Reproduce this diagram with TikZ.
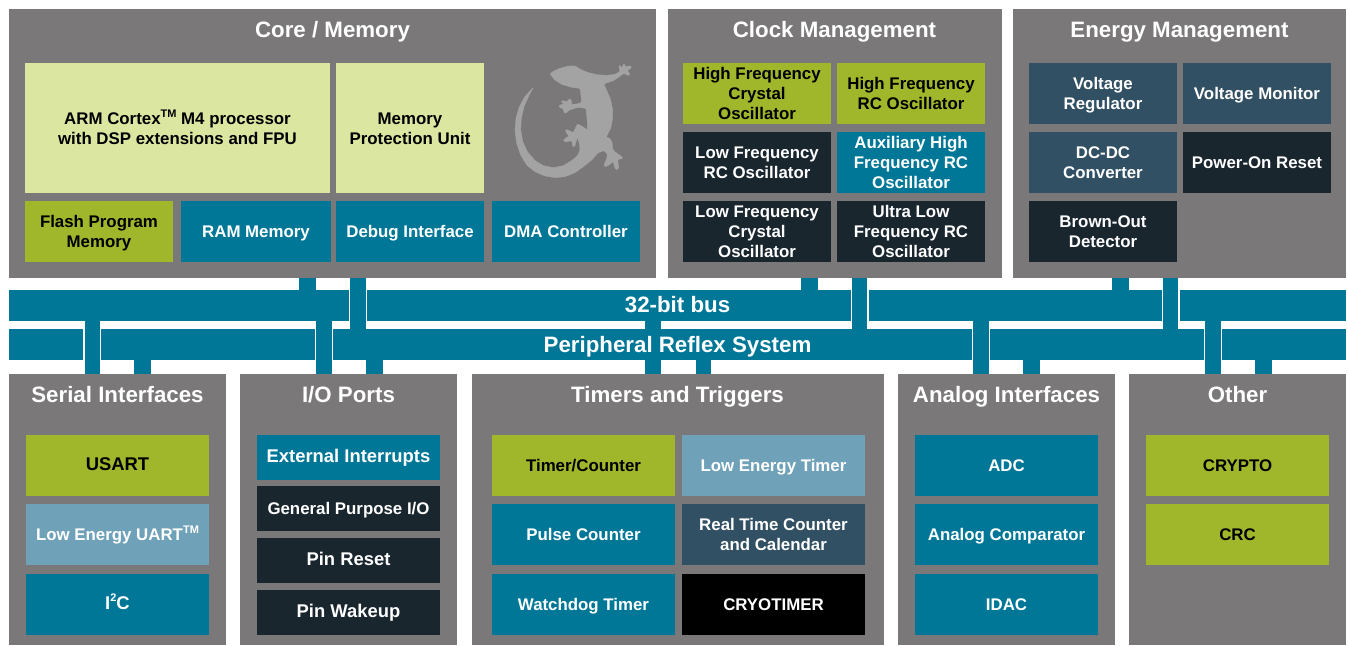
\documentclass[tikz,border=0pt]{standalone}
\usepackage{fontspec}
\setmainfont{Liberation Sans}
\definecolor{pgray}{HTML}{7A7879}
\definecolor{cteal}{HTML}{007796}
\definecolor{colive}{HTML}{A0B72C}
\definecolor{cpale}{HTML}{DBE6A1}
\definecolor{cdark}{HTML}{19262E}
\definecolor{cslate}{HTML}{325063}
\definecolor{csky}{HTML}{6FA1B8}
\definecolor{cgecko}{HTML}{A4A3A4}
\newcommand\supr[1]{\raisebox{.40em}{\fontsize{11}{11}\selectfont #1}}
\newcommand\lstrut{\rule[-.24em]{0pt}{1.17em}}
\newcommand\ml{\rule{0pt}{16.64pt}}
\tikzset{
  x=1pt,y=-1pt,
  blk/.style={inner sep=0pt,outer sep=0pt,align=center,font=\fontsize{16.85}{20}\selectfont\bfseries,
    execute at begin node=\lstrut,execute at end node=\lstrut},
  big/.style={font=\fontsize{18.4}{20}\selectfont\bfseries,execute at end node={\rule[-7.5pt]{0pt}{1pt}}},
  panel/.style={inner sep=0pt,outer sep=0pt,fill=pgray},
  title/.style={inner sep=0pt,anchor=base,text=white,font=\fontsize{22.3}{24}\selectfont\bfseries},
  bus/.style={inner sep=0pt,outer sep=0pt,fill=cteal},
  olive/.style={blk,fill=colive,text=black},
  pale/.style={blk,fill=cpale,text=black},
  teal/.style={blk,fill=cteal,text=white},
  dark/.style={blk,fill=cdark,text=white},
  slate/.style={blk,fill=cslate,text=white},
  sky/.style={blk,fill=csky,text=white},
  blackbox/.style={blk,fill=black,text=white},
  stub/.style={cteal,line width=15.5pt},
  shortstub/.style={cteal,line width=17pt},
  gap/.style={white,line width=18.2pt},
}
% \blkn{name}{style}{x1}{y1}{x2}{y2}{text}
\newcommand\blkn[7]{\node[#2,minimum width={(#5-#3)*1pt},minimum height={(#6-#4)*1pt}] (#1) at ({(#3+#5)/2},{(#4+#6)/2}) {#7};}
\begin{document}
\begin{tikzpicture}
\useasboundingbox (0,0) rectangle (1348,645);
% panels
\blkn{core}{panel}{9}{9}{656}{278}{}
\blkn{clock}{panel}{668}{9}{1002}{278}{}
\blkn{energy}{panel}{1013}{9}{1346}{278}{}
\blkn{serial}{panel}{9}{374}{226}{645}{}
\blkn{io}{panel}{240}{374}{457}{645}{}
\blkn{timers}{panel}{472}{374}{884}{645}{}
\blkn{analog}{panel}{898}{374}{1115}{645}{}
\blkn{other}{panel}{1129}{374}{1346}{645}{}
% buses
\blkn{bus32}{bus}{9}{290}{1346}{320.7}{}
\blkn{prs}{bus}{9}{329}{1346}{360}{}
% stub x positions
\coordinate (a1) at (92.3,0);
\coordinate (a2) at (142.5,0);
\coordinate (b1) at (307.5,0);
\coordinate (b2) at (323.8,0);
\coordinate (b3) at (358,0);
\coordinate (b4) at (374.5,0);
\coordinate (c1) at (653.2,0);
\coordinate (c2) at (703.4,0);
\coordinate (d1) at (809.5,0);
\coordinate (d2) at (859.6,0);
\coordinate (e1) at (981.2,0);
\coordinate (e2) at (1031.5,0);
\coordinate (f1) at (1120.5,0);
\coordinate (f2) at (1170.6,0);
\coordinate (g1) at (1212.8,0);
\coordinate (g2) at (1263.5,0);
% white gaps where a stub crosses a bus
\foreach \p in {a1,b2,e1,g1} \draw[gap] (prs.north -| \p) -- (prs.south -| \p);
\foreach \p in {b3,d2,f2} \draw[gap] (bus32.north -| \p) -- (bus32.south -| \p);
% stubs: upper panels to bus
\draw[shortstub] (core.south -| b1) -- (bus32.north -| b1);
\draw[shortstub] (clock.south -| d1) -- (bus32.north -| d1);
\draw[shortstub] (energy.south -| f1) -- (bus32.north -| f1);
\draw[stub] (core.south -| b3) -- (prs.north -| b3);
\draw[stub] (clock.south -| d2) -- (prs.north -| d2);
\draw[stub] (energy.south -| f2) -- (prs.north -| f2);
% stubs: bus to peripherals
\draw[stub] (bus32.south -| a1) -- (serial.north -| a1);
\draw[stub] (bus32.south -| b2) -- (io.north -| b2);
\draw[stub] (bus32.south -| c1) -- (timers.north -| c1);
\draw[stub] (bus32.south -| e1) -- (analog.north -| e1);
\draw[stub] (bus32.south -| g1) -- (other.north -| g1);
\draw[shortstub] (prs.south -| a2) -- (serial.north -| a2);
\draw[shortstub] (prs.south -| b4) -- (io.north -| b4);
\draw[stub] (prs.south -| c2) -- (timers.north -| c2);
\draw[shortstub] (prs.south -| e2) -- (analog.north -| e2);
\draw[shortstub] (prs.south -| g2) -- (other.north -| g2);
% bus labels
\node[title] (lbus) at (677.5,312.4) {32-bit bus};
\node[title] (lprs) at (677.5,352.4) {Peripheral Reflex System};
% titles
\node[title] (tcore) at (332.5,37.4) {Core / Memory};
\node[title] (tclock) at (834.5,37.4) {Clock Management};
\node[title] (tenergy) at (1179.5,37.4) {Energy Management};
\node[title] (tserial) at (117.5,402) {Serial Interfaces};
\node[title] (tio) at (348.5,402) {I/O Ports};
\node[title] (ttimers) at (677.5,402) {Timers and Triggers};
\node[title] (tanalog) at (1006.5,402) {Analog Interfaces};
\node[title] (tother) at (1237.5,402) {Other};
% Core
\blkn{arm}{pale}{25}{63}{330}{193}{\ml ARM Cortex\supr{TM} M4 processor\\with DSP extensions and FPU}
\blkn{mpu}{pale}{336}{63}{484}{193}{\ml Memory\\Protection Unit}
\blkn{flash}{olive}{25}{201}{173}{262}{\ml Flash Program\\Memory}
\blkn{ram}{teal}{181}{201}{331}{262}{RAM Memory}
\blkn{debug}{teal}{336}{201}{484}{262}{Debug Interface}
\blkn{dma}{teal}{492}{201}{640}{262}{DMA Controller}
% Clock
\blkn{hfxo}{olive}{683}{63}{831}{124}{\ml High Frequency\\Crystal\\Oscillator}
\blkn{hfrco}{olive}{837}{63}{985}{124}{\ml High Frequency\\RC Oscillator}
\blkn{lfrco}{dark}{683}{132}{831}{193}{\ml Low Frequency\\RC Oscillator}
\blkn{auxhf}{teal}{837}{132}{985}{193}{\ml Auxiliary High\\Frequency RC\\Oscillator}
\blkn{lfxo}{dark}{683}{201}{831}{262}{\ml Low Frequency\\Crystal\\Oscillator}
\blkn{ulfrco}{dark}{837}{201}{985}{262}{\ml Ultra Low\\Frequency RC\\Oscillator}
% Energy
\blkn{vreg}{slate}{1029}{63}{1177}{124}{\ml Voltage\\Regulator}
\blkn{vmon}{slate}{1183}{63}{1331}{124}{Voltage Monitor}
\blkn{dcdc}{slate}{1029}{132}{1177}{193}{\ml DC-DC\\Converter}
\blkn{por}{dark}{1183}{132}{1331}{193}{Power-On Reset}
\blkn{bod}{dark}{1029}{201}{1177}{262}{\ml Brown-Out\\Detector}
% Serial
\blkn{usart}{olive,big}{26}{435}{209}{496}{USART}
\blkn{leuart}{sky}{26}{504}{209}{565}{Low Energy UART\supr{TM}}
\blkn{iic}{teal,big}{26}{574}{209}{635}{I\supr{2}C}
% IO
\blkn{extint}{teal,big}{257}{435}{440}{480}{External Interrupts}
\blkn{gpio}{dark}{257}{486}{440}{531}{General Purpose I/O}
\blkn{pinrst}{dark,big}{257}{538}{440}{583}{Pin Reset}
\blkn{pinwk}{dark,big}{257}{590}{440}{635}{Pin Wakeup}
% Timers
\blkn{timer}{olive}{492}{435}{675}{496}{Timer/Counter}
\blkn{letimer}{sky}{682}{435}{865}{496}{Low Energy Timer}
\blkn{pcnt}{teal}{492}{504}{675}{565}{Pulse Counter}
\blkn{rtcc}{slate}{682}{504}{865}{565}{\ml Real Time Counter\\and Calendar}
\blkn{wdog}{teal}{492}{574}{675}{635}{Watchdog Timer}
\blkn{cryo}{blackbox}{682}{574}{865}{635}{CRYOTIMER}
% Analog
\blkn{adc}{teal}{915}{435}{1098}{496}{ADC}
\blkn{acmp}{teal}{915}{504}{1098}{565}{Analog Comparator}
\blkn{idac}{teal}{915}{574}{1098}{635}{IDAC}
% Other
\blkn{crypto}{olive}{1146}{435}{1329}{496}{CRYPTO}
\blkn{crc}{olive}{1146}{504}{1329}{565}{CRC}
% gecko
\begin{scope}[shift={(500,50)},x=.3333pt,y=-.3333pt]
\fill[cgecko,draw=cgecko,line width=.4pt,line join=round,rounded corners=.8pt]
(150,72)--(160,64)--(180,55)--(205,48)--(225,48)--(245,60)--(265,68)--(290,74)--(320,76)--(345,73)--(358,66)--(360,60)
--(356,48)--(360,46)--(365,55)--(370,43)--(375,43)--(376,52)--(390,47)--(395,52)--(382,62)--(390,72)--(386,77)--(372,70)--(358,80)--(340,92)--(315,100)--(312,104)
--(322,125)--(332,150)--(338,180)--(338,205)--(332,235)--(318,262)--(330,265)--(337,280)--(337,295)--(345,306)--(365,320)--(368,326)--(353,328)--(356,352)--(352,360)--(345,355)--(340,335)--(322,348)--(314,350)--(312,344)--(320,328)--(322,312)--(312,302)--(295,308)--(275,330)--(250,350)--(225,368)--(195,380)--(165,383)--(135,378)--(105,365)--(80,345)--(62,315)--(50,280)--(45,240)--(48,205)--(58,170)--(75,140)--(100,112)
--(85,140)--(72,170)--(64,205)--(62,240)--(68,275)--(82,305)--(105,332)--(130,347)--(160,353)--(190,347)--(215,332)--(232,318)--(240,300)--(238,280)--(232,262)--(228,275)--(224,290)--(219,290)--(215,272)--(195,276)--(190,270)--(207,258)--(196,244)--(199,238)--(220,248)--(226,235)--(232,222)--(245,228)--(262,240)--(262,215)--(258,175)--(235,172)--(208,180)--(197,190)--(192,188)--(190,176)--(178,172)--(178,166)--(192,162)--(184,156)--(187,151)--(200,156)--(208,147)--(214,150)--(214,163)--(232,162)--(245,157)--(243,135)--(240,115)--(215,112)--(185,103)--(165,90)--cycle;
\end{scope}
\end{tikzpicture}
\end{document}
